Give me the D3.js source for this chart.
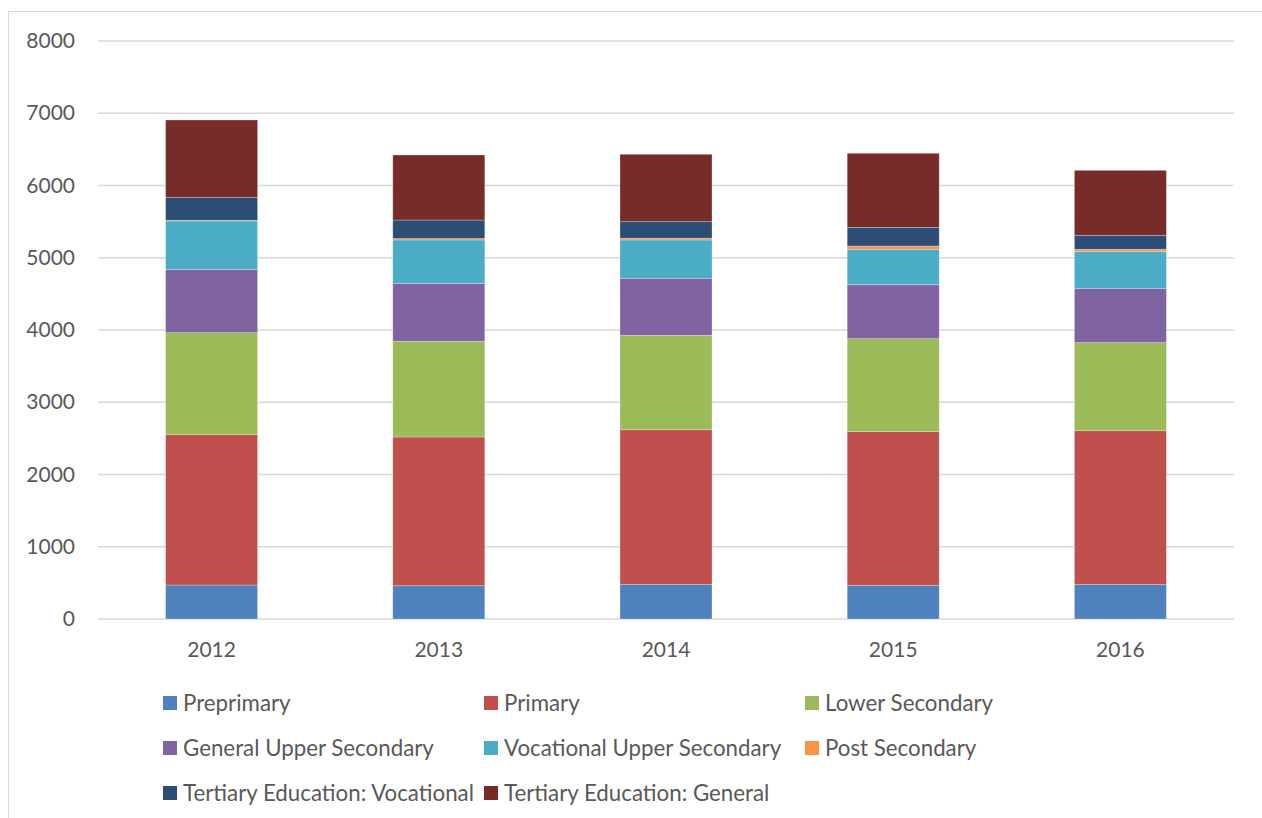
<!DOCTYPE html>
<html lang="en">
<head>
<meta charset="UTF-8">
<title>Enrolment by level</title>
<script src="https://cdn.jsdelivr.net/npm/d3@7"></script>
<style>
  body { margin: 0; background: #fff; }
  text { font-family: Lato, "Open Sans", sans-serif; fill: #595959; }
</style>
</head>
<body>
<script>
// data
var years = ['2012', '2013', '2014', '2015', '2016']
var levels = ['Preprimary', 'Primary', 'Lower Secondary', 'General Upper Secondary',
    'Vocational Upper Secondary', 'Post Secondary', 'Tertiary Education: Vocational',
    'Tertiary Education: General']
var preprimary = [470, 461, 480, 466, 480]
var primary = [2081, 2058, 2140, 2127, 2126]
var lowerSecondary = [1412, 1325, 1306, 1287, 1219]
var generalUpper = [877, 802, 790, 747, 752]
var vocationalUpper = [669, 600, 530, 490, 507]
var postSecondary = [10, 20, 25, 45, 33]
var tertiaryVocational = [318, 256, 228, 259, 194]
var tertiaryGeneral = [1070, 900, 933, 1025, 899]
var yTicks = [0, 1000, 2000, 3000, 4000, 5000, 6000, 7000, 8000]

var seriesValues = [preprimary, primary, lowerSecondary, generalUpper,
    vocationalUpper, postSecondary, tertiaryVocational, tertiaryGeneral]
var colors = ['#4f81bd', '#c0504d', '#9bbb59', '#8064a2', '#4bacc6', '#f79646', '#2c4d75', '#772c2a']

var width = 1262, height = 818
var plot = {left: 98, right: 1234, top: 41, bottom: 619}

var table = years.map((y, i) => {
    var row = {year: y}
    levels.forEach((l, j) => { row[l] = seriesValues[j][i] })
    return row
})

var svg = d3.select('body').append('svg')
    .attr('width', width)
    .attr('height', height)

// chart border
svg.append('rect')
    .attr('x', 8.5).attr('y', 11.5)
    .attr('width', 1300).attr('height', 900)
    .attr('fill', 'none')
    .attr('stroke', '#d9d9d9')

var x = d3.scaleBand()
    .domain(years)
    .range([plot.left, plot.right])
    .paddingInner(0.595)
    .paddingOuter(0.2975)
var y = d3.scaleLinear()
    .domain([0, 8000])
    .range([plot.bottom, plot.top])

// gridlines
svg.append('g')
    .selectAll('line')
    .data(yTicks)
    .enter()
    .append('line')
    .attr('x1', plot.left).attr('x2', plot.right)
    .attr('y1', d => y(d)).attr('y2', d => y(d))
    .attr('stroke', '#d9d9d9')
    .attr('stroke-width', 1.5)

var stacked = d3.stack().keys(levels)(table)

svg.append('g')
    .selectAll('g')
    .data(stacked)
    .enter()
    .append('g')
    .attr('fill', (d, i) => colors[i])
    .selectAll('rect')
    .data(d => d)
    .enter()
    .append('rect')
    .attr('x', d => x(d.data.year))
    .attr('width', x.bandwidth())
    .attr('y', d => y(d[1]))
    .attr('height', d => y(d[0]) - y(d[1]))
    .attr('stroke', '#ffffff')
    .attr('stroke-opacity', 0.35)
    .attr('stroke-width', 0.75)

// y axis labels
var leftAxis = d3.axisLeft(y).tickValues(yTicks).tickFormat(d3.format('d')).tickSize(0).tickPadding(0)
var gy = svg.append('g')
    .attr('transform', `translate(75, 0)`)
    .call(leftAxis)
gy.select('.domain').remove()
gy.selectAll('text')
    .attr('font-size', 21)
    .style('font-family', 'Lato, sans-serif')
    .attr('fill', '#595959')

// x axis labels
var bottomAxis = d3.axisBottom(x).tickSize(0).tickPadding(23)
var gx = svg.append('g')
    .attr('transform', `translate(0, ${plot.bottom})`)
    .call(bottomAxis)
gx.select('.domain').remove()
gx.selectAll('text')
    .attr('font-size', 21)
    .style('font-family', 'Lato, sans-serif')
    .attr('fill', '#595959')

// legend
var legendCols = [163, 484, 805]
var legendRows = [703, 748, 793]
var legend = svg.append('g')
    .selectAll('g')
    .data(levels)
    .enter()
    .append('g')
    .attr('transform', (d, i) => `translate(${legendCols[i % 3]}, ${legendRows[Math.floor(i / 3)]})`)
legend.append('rect')
    .attr('x', 0).attr('y', -7)
    .attr('width', 14).attr('height', 14)
    .attr('fill', (d, i) => colors[i])
legend.append('text')
    .attr('x', 20)
    .attr('dy', '0.35em')
    .attr('font-size', 22.3)
    .text(d => d)
</script>
</body>
</html>
